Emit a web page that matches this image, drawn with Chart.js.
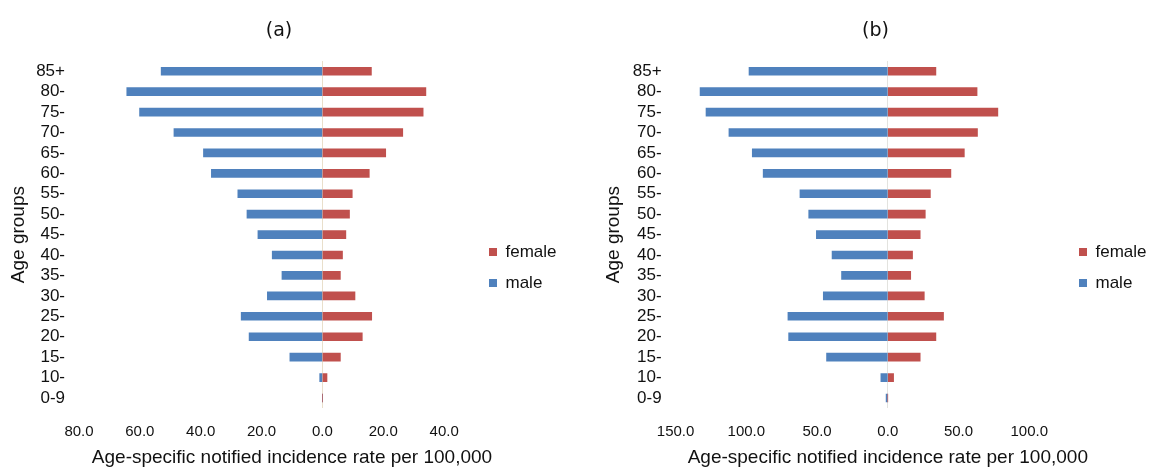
<!DOCTYPE html>
<html>
<head>
<meta charset="utf-8">
<script src="https://cdn.jsdelivr.net/npm/chart.js@4.4.0/dist/chart.umd.min.js"></script>
<style>
  html, body { margin: 0; padding: 0; background: #fff; width: 1162px; height: 473px; overflow: hidden; }
  .panel { position: absolute; top: 0; width: 558px; height: 473px; }
  #pa { left: 0; }
  #pb { left: 595px; }
</style>
</head>
<body>
<div class="panel" id="pa"><canvas id="ca" width="558" height="473"></canvas></div>
<div class="panel" id="pb"><canvas id="cb" width="558" height="473"></canvas></div>
<script>
// Age groups, youngest first (the y axis is reversed so 85+ sits on top)
const ageGroups = ['0-9', '10-', '15-', '20-', '25-', '30-', '35-', '40-', '45-',
                   '50-', '55-', '60-', '65-', '70-', '75-', '80-', '85+'];

// Panel (a): age-specific notified incidence rate per 100,000
const maleA   = [0, 0.9, 10.7, 24.1, 26.7, 18.1, 13.3, 16.5, 21.2, 24.8, 27.8, 36.5, 39.1, 48.8, 60.1, 64.3, 53.0];
const femaleA = [0, 1.5, 5.9, 13.1, 16.2, 10.7, 5.9, 6.6, 7.7, 8.9, 9.8, 15.4, 20.8, 26.4, 33.1, 34.0, 16.1];

// Panel (b)
const maleB   = [1.2, 4.9, 43.3, 70.1, 70.6, 45.6, 32.7, 39.4, 50.5, 55.9, 62.1, 88.1, 95.8, 112.3, 128.5, 132.7, 98.1];
const femaleB = [0, 4.1, 22.9, 34.0, 39.4, 25.8, 16.2, 17.5, 22.9, 26.5, 30.1, 44.6, 54.1, 63.4, 77.8, 63.1, 34.0];

// Tick positions on the rate axis (male side is negative, labelled by magnitude)
const ticksA = [-80, -60, -40, -20, 0, 20, 40];
const ticksB = [-150, -100, -50, 0, 50, 100];

const panelTitles = ['(a)', '(b)'];
const seriesNames = ['female', 'male'];
const xAxisTitle = 'Age-specific notified incidence rate per 100,000';
const yAxisTitle = 'Age groups';

Chart.defaults.font.family = "'Liberation Sans', Arial, sans-serif";
Chart.defaults.color = '#111';

// Places the legend and the panel title at fixed spots once layout is done
const placeBlocks = {
  id: 'placeBlocks',
  afterLayout(chart, args, opts) {
    const lg = chart.legend;
    if (lg) {
      const w = lg.width, h = lg.height;
      lg.left = opts.legendX; lg.top = opts.legendY;
      lg.right = opts.legendX + w; lg.bottom = opts.legendY + h;
    }
    const tb = chart.titleBlock;
    if (tb) {
      const half = Math.min(opts.titleX, chart.width);
      tb.left = opts.titleX - half;
      tb.right = opts.titleX + half;
    }
  }
};

function pyramid(canvasId, title, male, female, ticks, range, zeroColor, spots, axisLeft) {
  return new Chart(document.getElementById(canvasId), {
    type: 'bar',
    plugins: [placeBlocks],
    data: {
      labels: ageGroups,
      datasets: [
        { label: seriesNames[0], data: female, backgroundColor: '#C0504D', borderWidth: 0, barThickness: 8 },
        { label: seriesNames[1], data: male.map(v => -v), backgroundColor: '#4F81BD', borderWidth: 0, barThickness: 8 }
      ]
    },
    options: {
      indexAxis: 'y',
      responsive: false,
      animation: false,
      devicePixelRatio: 1,
      layout: { padding: { left: 0, right: 53, top: 0, bottom: 0 } },
      scales: {
        x: {
          stacked: true,
          min: range[0],
          max: range[1],
          afterBuildTicks: s => { s.ticks = ticks.map(v => ({ value: v })); },
          afterFit: s => { s.height = 64.8; },
          grid: {
            drawTicks: false,
            color: c => (c.tick && c.tick.value === 0) ? zeroColor : 'rgba(0,0,0,0)',
            lineWidth: 1
          },
          border: { display: false },
          ticks: {
            padding: 14.3,
            font: { size: 15 },
            color: '#111',
            callback: v => Math.abs(v).toFixed(1)
          },
          title: {
            display: true,
            text: xAxisTitle,
            font: { size: 19 },
            color: '#111',
            padding: { top: 5.8, bottom: 3.9 }
          }
        },
        y: {
          stacked: true,
          reverse: true,
          afterFit: s => { s.width = axisLeft; },
          grid: { display: false, drawTicks: false },
          border: { display: false },
          ticks: { padding: 14, autoSkip: false, font: { size: 17 }, color: '#111' },
          title: {
            display: true,
            text: yAxisTitle,
            font: { size: 19 },
            color: '#111',
            padding: { top: 7.3, bottom: 0 }
          }
        }
      },
      plugins: {
        title: {
          display: true,
          text: title,
          font: { family: "'DejaVu Sans', sans-serif", size: 19, weight: 'normal' },
          color: '#111',
          padding: { top: 19.4, bottom: 18.8 }
        },
        legend: {
          position: 'chartArea',
          align: 'start',
          labels: {
            boxWidth: 8,
            boxHeight: 8,
            padding: 14,
            textAlign: 'left',
            font: { size: 17 },
            color: '#111'
          }
        },
        placeBlocks: spots,
        tooltip: { enabled: false }
      }
    }
  });
}

pyramid('ca', panelTitles[0], maleA, femaleA, ticksA, [-80, 60], '#e9dfcb',
        { legendX: 475, legendY: 229.5, titleX: 279 }, 79);
pyramid('cb', panelTitles[1], maleB, femaleB, ticksB, [-150, 150], '#e3e3df',
        { legendX: 470, legendY: 229.5, titleX: 280.5 }, 80.6);
</script>
</body>
</html>
